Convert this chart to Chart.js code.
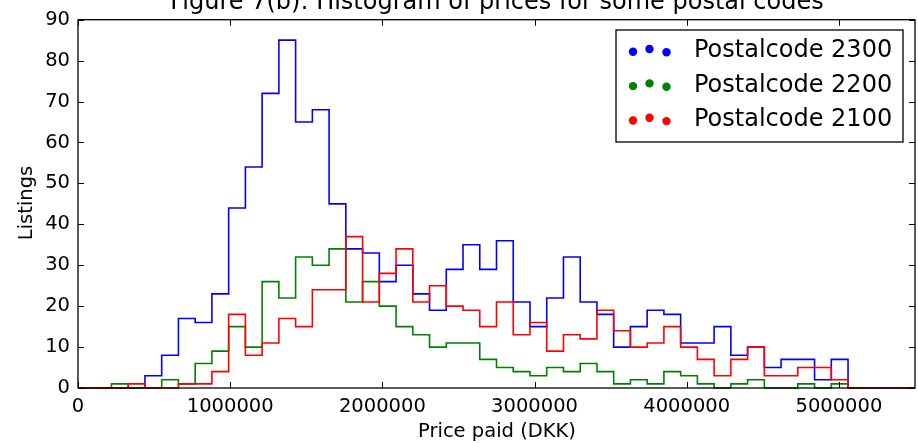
<!DOCTYPE html>
<html>
<head>
<meta charset="utf-8">
<script src="https://cdn.jsdelivr.net/npm/chart.js@4/dist/chart.umd.min.js"></script>
<style>
  html, body { margin: 0; padding: 0; background: #fff; }
  #wrap { width: 918px; height: 443px; }
</style>
</head>
<body>
<div id="wrap"><canvas id="chart" width="918" height="443"></canvas></div>
<script>
// Histogram bins: 50 bins of 110000 DKK, from 0 to 5500000
const binWidth = 110000;
const binCount = 50;

const xTickValues = [0, 1000000, 2000000, 3000000, 4000000, 5000000];
const yTickValues = [0, 10, 20, 30, 40, 50, 60, 70, 80, 90];

const legendLabels = ['Postalcode 2300', 'Postalcode 2200', 'Postalcode 2100'];
const seriesColors = ['#0000ff', '#008000', '#ff0000'];

// counts per bin
const counts2300 = [0, 0, 0, 0, 3, 8, 17, 16, 23, 44,
    54, 72, 85, 65, 68, 45, 34, 33, 26, 30,
    23, 19, 29, 35, 29, 36, 21, 15, 22, 32,
    21, 18, 10, 15, 19, 18, 11, 11, 15, 8,
    10, 5, 7, 7, 2, 7, 0, 0, 0, 0];
const counts2200 = [0, 0, 1, 0, 0, 2, 1, 6, 9, 15,
    10, 26, 22, 32, 30, 34, 21, 26, 20, 15,
    13, 10, 11, 11, 7, 5, 4, 3, 5, 4,
    6, 4, 1, 2, 1, 4, 3, 1, 0, 1,
    2, 0, 0, 1, 0, 1, 0, 0, 0, 0];
const counts2100 = [0, 0, 0, 1, 0, 0, 1, 1, 4, 18,
    8, 11, 17, 15, 24, 24, 37, 21, 28, 34,
    21, 25, 20, 19, 15, 21, 13, 16, 9, 13,
    12, 19, 14, 10, 11, 15, 10, 7, 3, 7,
    10, 3, 3, 5, 5, 2, 0, 0, 0, 0];

const FONT = "'DejaVu Sans', sans-serif";

// step points at bin edges (last edge repeats the last count)
const toSteps = (counts) => {
    const pts = counts.map((c, i) => ({ x: i * binWidth, y: c }));
    pts.push({ x: binCount * binWidth, y: counts[counts.length - 1] });
    return pts;
};

const stepDataset = (label, counts, color, order) => ({
    label: label,
    data: toSteps(counts),
    borderColor: color,
    backgroundColor: color,
    borderWidth: 1.6,
    stepped: true,
    pointRadius: 0,
    fill: false,
    clip: 3,
    order: order
});

const framePlugin = {
    id: 'frame',
    afterDraw: (chart) => {
        const ctx = chart.ctx;
        const area = chart.chartArea;
        const xs = chart.scales.x;
        const ys = chart.scales.y;
        ctx.save();

        // box + inner ticks on all four sides
        ctx.strokeStyle = '#000';
        ctx.lineWidth = 1.3;
        ctx.strokeRect(area.left, area.top, area.right - area.left, area.bottom - area.top);
        ctx.lineWidth = 1;
        ctx.beginPath();
        xTickValues.forEach(v => {
            const px = Math.round(xs.getPixelForValue(v)) + 0.5;
            ctx.moveTo(px, area.bottom); ctx.lineTo(px, area.bottom - 6);
            ctx.moveTo(px, area.top); ctx.lineTo(px, area.top + 6);
        });
        yTickValues.forEach(v => {
            const py = Math.round(ys.getPixelForValue(v)) + 0.5;
            ctx.moveTo(area.left, py); ctx.lineTo(area.left + 6, py);
            ctx.moveTo(area.right, py); ctx.lineTo(area.right - 6, py);
        });
        ctx.stroke();

        // title (partly cut at top, as in the original)
        ctx.fillStyle = '#000';
        ctx.font = '24px ' + FONT;
        ctx.textAlign = 'center';
        ctx.textBaseline = 'alphabetic';
        ctx.fillText('Figure 7(b): Histogram of prices for some postal codes', 497, 9);

        // axis titles
        ctx.font = '19.5px ' + FONT;
        ctx.textBaseline = 'middle';
        ctx.fillText('Price paid (DKK)', 497, 432);
        ctx.save();
        ctx.translate(27, 203);
        ctx.rotate(-Math.PI / 2);
        ctx.fillText('Listings', 0, 0);
        ctx.restore();

        // legend
        const lx = 616, ly = 30, lw = 287, lh = 112;
        ctx.fillStyle = '#fff';
        ctx.fillRect(lx, ly, lw, lh);
        ctx.strokeStyle = '#000';
        ctx.lineWidth = 1.3;
        ctx.strokeRect(lx, ly, lw, lh);
        const dotX = [633, 649.5, 666.5];
        const dotDy = [0, -2.7, 0.6];
        ctx.font = '24px ' + FONT;
        ctx.textAlign = 'left';
        ctx.textBaseline = 'alphabetic';
        legendLabels.forEach((label, i) => {
            const base = 57.3 + i * 34.4;
            ctx.fillStyle = seriesColors[i];
            dotX.forEach((dx, k) => {
                ctx.beginPath();
                ctx.arc(dx, base - 5.6 + dotDy[k], 4.2, 0, Math.PI * 2);
                ctx.fill();
            });
            ctx.fillStyle = '#000';
            ctx.fillText(label, 694, base);
        });
        ctx.restore();
    }
};

const ctx = document.getElementById('chart').getContext('2d');
new Chart(ctx, {
    type: 'line',
    data: {
        datasets: [
            stepDataset(legendLabels[0], counts2300, seriesColors[0], 2),
            stepDataset(legendLabels[1], counts2200, seriesColors[1], 1),
            stepDataset(legendLabels[2], counts2100, seriesColors[2], 0)
        ]
    },
    options: {
        responsive: false,
        animation: false,
        devicePixelRatio: 1,
        layout: { padding: { left: 0, right: 3, top: 18, bottom: 0 } },
        scales: {
            x: {
                type: 'linear',
                min: 0,
                max: 5500000,
                grid: { display: false, drawTicks: false },
                border: { display: false },
                afterBuildTicks: (scale) => {
                    scale.ticks = xTickValues.map(v => ({ value: v }));
                },
                afterFit: (scale) => { scale.height = 55; },
                ticks: {
                    color: '#000',
                    padding: 7,
                    maxRotation: 0,
                    font: { family: FONT, size: 19.5 },
                    callback: (v) => String(v)
                }
            },
            y: {
                min: 0,
                max: 90,
                grid: { display: false, drawTicks: false },
                border: { display: false },
                afterBuildTicks: (scale) => {
                    scale.ticks = yTickValues.map(v => ({ value: v }));
                },
                afterFit: (scale) => { scale.width = 78; },
                ticks: {
                    color: '#000',
                    padding: 8,
                    font: { family: FONT, size: 19.5 },
                    callback: (v) => String(v)
                }
            }
        },
        plugins: {
            legend: { display: false },
            title: { display: false },
            tooltip: { enabled: false }
        }
    },
    plugins: [framePlugin]
});
</script>
</body>
</html>
